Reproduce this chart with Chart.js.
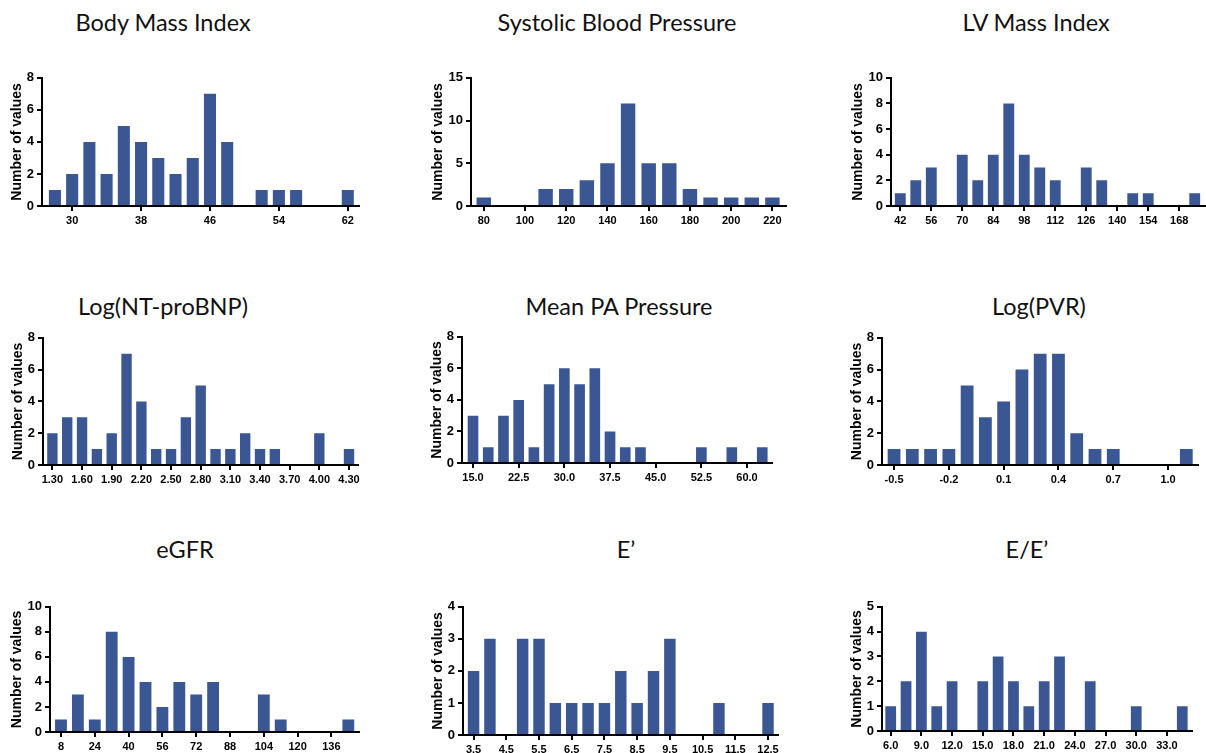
<!DOCTYPE html>
<html>
<head>
<meta charset="utf-8">
<script src="https://cdn.jsdelivr.net/npm/chart.js@4.4.1/dist/chart.umd.min.js"></script>
<style>
  html, body { margin: 0; padding: 0; background: #fff; overflow: hidden; }
  body { width: 1206px; height: 753px; position: relative; }
  canvas { position: absolute; }
  .ttl {
    position: absolute; white-space: nowrap; transform: translateX(-50%);
    font-family: Lato, "Open Sans", sans-serif; font-size: 23.5px; line-height: 1.2; color: #111;
  }
</style>
</head>
<body>
<script>
// histogram bin centres, counts and labelled x ticks for each variable
const bmiBins   = [28, 30, 32, 34, 36, 38, 40, 42, 44, 46, 48, 50, 52, 54, 56, 58, 60, 62];
const bmiCounts = [1, 2, 4, 2, 5, 4, 3, 2, 3, 7, 4, 0, 1, 1, 1, 0, 0, 1];
const bmiTicks  = [30, 38, 46, 54, 62];

const sbpBins   = [80, 90, 100, 110, 120, 130, 140, 150, 160, 170, 180, 190, 200, 210, 220];
const sbpCounts = [1, 0, 0, 2, 2, 3, 5, 12, 5, 5, 2, 1, 1, 1, 1];
const sbpTicks  = [80, 100, 120, 140, 160, 180, 200, 220];

const lvmiBins   = [42, 49, 56, 63, 70, 77, 84, 91, 98, 105, 112, 119, 126, 133, 140, 147, 154, 161, 168, 175];
const lvmiCounts = [1, 2, 3, 0, 4, 2, 4, 8, 4, 3, 2, 0, 3, 2, 0, 1, 1, 0, 0, 1];
const lvmiTicks  = [42, 56, 70, 84, 98, 112, 126, 140, 154, 168];

const bnpBins   = [1.30, 1.45, 1.60, 1.75, 1.90, 2.05, 2.20, 2.35, 2.50, 2.65, 2.80, 2.95, 3.10, 3.25, 3.40, 3.55, 3.70, 3.85, 4.00, 4.15, 4.30];
const bnpCounts = [2, 3, 3, 1, 2, 7, 4, 1, 1, 3, 5, 1, 1, 2, 1, 1, 0, 0, 2, 0, 1];
const bnpTicks  = [1.30, 1.60, 1.90, 2.20, 2.50, 2.80, 3.10, 3.40, 3.70, 4.00, 4.30];

const mpapBins   = [15, 17.5, 20, 22.5, 25, 27.5, 30, 32.5, 35, 37.5, 40, 42.5, 45, 47.5, 50, 52.5, 55, 57.5, 60, 62.5];
const mpapCounts = [3, 1, 3, 4, 1, 5, 6, 5, 6, 2, 1, 1, 0, 0, 0, 1, 0, 1, 0, 1];
const mpapTicks  = [15, 22.5, 30, 37.5, 45, 52.5, 60];

const pvrBins   = [-0.5, -0.4, -0.3, -0.2, -0.1, 0.0, 0.1, 0.2, 0.3, 0.4, 0.5, 0.6, 0.7, 0.8, 0.9, 1.0, 1.1];
const pvrCounts = [1, 1, 1, 1, 5, 3, 4, 6, 7, 7, 2, 1, 1, 0, 0, 0, 1];
const pvrTicks  = [-0.5, -0.2, 0.1, 0.4, 0.7, 1.0];

const egfrBins   = [8, 16, 24, 32, 40, 48, 56, 64, 72, 80, 88, 96, 104, 112, 120, 128, 136, 144];
const egfrCounts = [1, 3, 1, 8, 6, 4, 2, 4, 3, 4, 0, 0, 3, 1, 0, 0, 0, 1];
const egfrTicks  = [8, 24, 40, 56, 72, 88, 104, 120, 136];

const ePrimeBins   = [3.5, 4.0, 4.5, 5.0, 5.5, 6.0, 6.5, 7.0, 7.5, 8.0, 8.5, 9.0, 9.5, 10.0, 10.5, 11.0, 11.5, 12.0, 12.5];
const ePrimeCounts = [2, 3, 0, 3, 3, 1, 1, 1, 1, 2, 1, 2, 3, 0, 0, 1, 0, 0, 1];
const ePrimeTicks  = [3.5, 4.5, 5.5, 6.5, 7.5, 8.5, 9.5, 10.5, 11.5, 12.5];

const eeBins   = [6.0, 7.5, 9.0, 10.5, 12.0, 13.5, 15.0, 16.5, 18.0, 19.5, 21.0, 22.5, 24.0, 25.5, 27.0, 28.5, 30.0, 31.5, 33.0, 34.5];
const eeCounts = [1, 2, 4, 1, 2, 0, 2, 3, 2, 1, 2, 3, 0, 2, 0, 0, 1, 0, 0, 1];
const eeTicks  = [6, 9, 12, 15, 18, 21, 24, 27, 30, 33];

const BAR = '#3a5793';
const YLABEL = 'Number of values';

// area = [left, right, top, bottom] of the plot box on the page
const panels = [
  { title: 'Body Mass Index', bins: bmiBins, counts: bmiCounts, ticks: bmiTicks, dec: 0,
    xMin: 26.5, xMax: 63.3, yMax: 8, yStep: 2, area: [42, 359, 77, 206], tx: 163, base: 31 },
  { title: 'Systolic Blood Pressure', bins: sbpBins, counts: sbpCounts, ticks: sbpTicks, dec: 0,
    xMin: 73.8, xMax: 226.6, yMax: 15, yStep: 5, area: [471, 786, 77, 206], tx: 617, base: 31 },
  { title: 'LV Mass Index', bins: lvmiBins, counts: lvmiCounts, ticks: lvmiTicks, dec: 0,
    xMin: 37.8, xMax: 180.1, yMax: 10, yStep: 2, area: [891, 1206, 77, 206], tx: 1036, base: 31 },
  { title: 'Log(NT-proBNP)', bins: bnpBins, counts: bnpCounts, ticks: bnpTicks, dec: 2,
    xMin: 1.205, xMax: 4.391, yMax: 8, yStep: 2, area: [43, 358, 337, 465], tx: 163, base: 315 },
  { title: 'Mean PA Pressure', bins: mpapBins, counts: mpapCounts, ticks: mpapTicks, dec: 1,
    xMin: 13.19, xMax: 64.1, yMax: 8, yStep: 2, area: [462, 772, 336, 463], tx: 619, base: 315 },
  { title: 'Log(PVR)', bins: pvrBins, counts: pvrCounts, ticks: pvrTicks, dec: 1,
    xMin: -0.566, xMax: 1.164, yMax: 8, yStep: 2, area: [882, 1198, 337, 465], tx: 1039, base: 315 },
  { title: 'eGFR', bins: egfrBins, counts: egfrCounts, ticks: egfrTicks, dec: 0,
    xMin: 2.8, xMax: 149.05, yMax: 10, yStep: 2, area: [50, 359, 606, 732], tx: 185, base: 558 },
  { title: 'E\u2019', bins: ePrimeBins, counts: ePrimeCounts, ticks: ePrimeTicks, dec: 1,
    xMin: 3.177, xMax: 12.805, yMax: 4, yStep: 1, area: [463, 778, 606, 735], tx: 626, base: 558 },
  { title: 'E/E\u2019', bins: eeBins, counts: eeCounts, ticks: eeTicks, dec: 1,
    xMin: 5.15, xMax: 35.45, yMax: 5, yStep: 1, area: [882, 1192, 606, 731], tx: 1027, base: 558 }
];

Chart.defaults.font.family = '"Liberation Sans", Arial, sans-serif';
Chart.defaults.color = '#000';

const PAD_TOP = 10, PAD_RIGHT = 14, PAD_BOTTOM = 2, X_AXIS_H = 24;

panels.forEach(p => {
  const [left, right, top, bottom] = p.area;
  // wider y axis when tick labels have two digits
  const yW = p.yMax >= 10 ? 41 : 33;

  const cv = document.createElement('canvas');
  const cl = left - yW, ct = top - PAD_TOP;
  cv.width = right + PAD_RIGHT - cl;
  cv.height = bottom + X_AXIS_H + PAD_BOTTOM - ct;
  cv.style.left = cl + 'px';
  cv.style.top = ct + 'px';
  document.body.appendChild(cv);

  const t = document.createElement('div');
  t.className = 'ttl';
  t.textContent = p.title;
  t.style.left = p.tx + 'px';
  t.style.top = (p.base - 23.2) + 'px';
  document.body.appendChild(t);

  new Chart(cv.getContext('2d'), {
    type: 'bar',
    data: {
      datasets: [{
        data: p.bins.map((b, i) => ({ x: b, y: p.counts[i] })),
        backgroundColor: BAR,
        barPercentage: 0.7,
        categoryPercentage: 1.0
      }]
    },
    options: {
      responsive: false,
      animation: false,
      events: [],
      layout: { padding: { top: PAD_TOP, right: PAD_RIGHT, bottom: PAD_BOTTOM, left: 0 } },
      plugins: { legend: { display: false }, tooltip: { enabled: false } },
      scales: {
        x: {
          type: 'linear',
          offset: false,
          min: p.xMin,
          max: p.xMax,
          afterBuildTicks: s => { s.ticks = p.ticks.map(v => ({ value: v })); },
          afterFit: s => { s.height = X_AXIS_H; },
          ticks: {
            autoSkip: false, maxRotation: 0, padding: 3,
            font: { size: 11, weight: 'bold' },
            callback: v => Number(v).toFixed(p.dec)
          },
          grid: { offset: false, drawOnChartArea: false, color: '#000', lineWidth: 2, tickLength: 5 },
          border: { color: '#000', width: 2 }
        },
        y: {
          min: 0,
          max: p.yMax,
          afterFit: s => { s.width = yW; },
          ticks: { stepSize: p.yStep, padding: 3, font: { size: 13, weight: 'bold' } },
          title: { display: true, text: YLABEL, padding: 0, font: { size: 14, weight: 'bold' } },
          grid: { drawOnChartArea: false, color: '#000', lineWidth: 2, tickLength: 5 },
          border: { color: '#000', width: 2 }
        }
      }
    }
  });
});
</script>
</body>
</html>
